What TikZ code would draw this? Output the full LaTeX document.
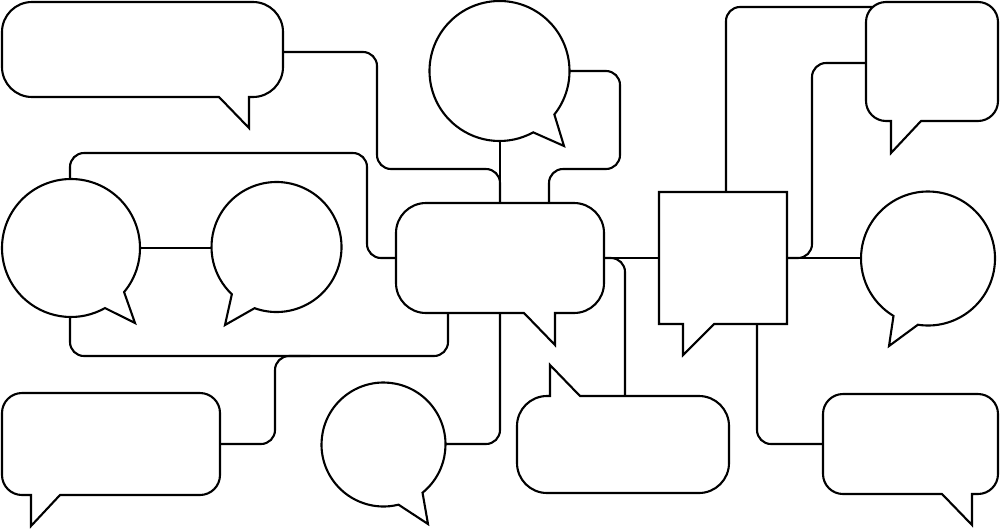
\documentclass[tikz,border=0pt]{standalone}
\begin{document}
\begin{tikzpicture}[x=1pt,y=-1pt,
  bub/.style={draw=black,fill=white,line width=2.1pt,line join=miter,miter limit=6},
  conn/.style={draw=black,line width=2.1pt,rounded corners=14pt}]
\useasboundingbox (0,0) rectangle (1000,528);
% connection points
\coordinate (b1e) at (280,52);
\coordinate (c1s) at (500,138);
\coordinate (c1e) at (567,71);
\coordinate (cbnA) at (500,206);
\coordinate (cbnB) at (549,206);
\coordinate (c2n) at (70,182);
\coordinate (c2s) at (70,314);
\coordinate (c2e) at (137,248);
\coordinate (c3w) at (215,248);
\coordinate (cbw) at (399,258);
\coordinate (cbsA) at (448,310);
\coordinate (cbsB) at (500,310);
\coordinate (cbe) at (601,258);
\coordinate (loopj) at (310,356);
\coordinate (ble) at (217,444);
\coordinate (bce) at (442,444);
\coordinate (bmn) at (625,399);
\coordinate (sqw) at (662,258);
\coordinate (sqn) at (726,195);
\coordinate (sqe) at (784,258);
\coordinate (sqs) at (757,321);
\coordinate (trw) at (878,7);
\coordinate (trw2) at (869,63);
\coordinate (rcw) at (864,258);
\coordinate (brw) at (826,444);
% connectors
\draw[conn] (b1e) -- (377,52) -- (377,169) -- (500,169) -- (cbnA);
\draw[conn] (c1s) -- (cbnA);
\draw[conn] (c1e) -- (620,71) -- (620,169) -- (549,169) -- (cbnB);
\draw[conn] (c2n) -- (70,153) -- (367,153) -- (367,258) -- (cbw);
\draw[conn] (c2s) -- (70,356) -- (448,356) -- (cbsA);
\draw[conn] (c2e) -- (c3w);
\draw[conn] (ble) -- (275,444) -- (275,356) -- (loopj);
\draw[conn] (bce) -- (500,444) -- (cbsB);
\draw[conn] (cbe) -- (sqw);
\draw[conn] (bmn) -- (625,258) -- (cbe);
\draw[conn] (sqn) -- (726,7) -- (trw);
\draw[conn] (trw2) -- (812,63) -- (812,258) -- (sqe);
\draw[conn] (sqe) -- (rcw);
\draw[conn] (sqs) -- (757,444) -- (brw);
% rectangular bubbles
\draw[bub] (32,2) -- (253,2) arc[start angle=-90,end angle=0,radius=30] -- (283,67) arc[start angle=0,end angle=90,radius=30] -- (249,97) -- (249,128) -- (219,97) -- (32,97) arc[start angle=90,end angle=180,radius=30] -- (2,32) arc[start angle=180,end angle=270,radius=30] -- cycle;
\draw[bub] (426,203) -- (574,203) arc[start angle=-90,end angle=0,radius=30] -- (604,283) arc[start angle=0,end angle=90,radius=30] -- (555,313) -- (555,345) -- (524,313) -- (426,313) arc[start angle=90,end angle=180,radius=30] -- (396,233) arc[start angle=180,end angle=270,radius=30] -- cycle;
\draw[bub] (886,2) -- (978,2) arc[start angle=-90,end angle=0,radius=20] -- (998,101) arc[start angle=0,end angle=90,radius=20] -- (921,121) -- (891,153) -- (891,121) -- (886,121) arc[start angle=90,end angle=180,radius=20] -- (866,22) arc[start angle=180,end angle=270,radius=20] -- cycle;
\draw[bub] (843,394) -- (978,394) arc[start angle=-90,end angle=0,radius=20] -- (998,474) arc[start angle=0,end angle=90,radius=20] -- (972,494) -- (972,525) -- (942,494) -- (843,494) arc[start angle=90,end angle=180,radius=20] -- (823,414) arc[start angle=180,end angle=270,radius=20] -- cycle;
\draw[bub] (22,393) -- (200,393) arc[start angle=-90,end angle=0,radius=20] -- (220,475) arc[start angle=0,end angle=90,radius=20] -- (60,495) -- (31,526) -- (31,495) -- (22,495) arc[start angle=90,end angle=180,radius=20] -- (2,413) arc[start angle=180,end angle=270,radius=20] -- cycle;
\draw[bub] (547,396) -- (550,396) -- (550,365) -- (580,396) -- (699,396) arc[start angle=-90,end angle=0,radius=30] -- (729,463) arc[start angle=0,end angle=90,radius=30] -- (547,493) arc[start angle=90,end angle=180,radius=30] -- (517,426) arc[start angle=180,end angle=270,radius=30] -- cycle;
% square bubble
\draw[bub] (659,192) -- (787,192) -- (787,324) -- (714,324) -- (683,355) -- (683,324) -- (659,324) -- cycle;
% round bubbles
\draw[bub] (499.5,71) ++(38.4:70) arc[start angle=38.4,end angle=-298.8,radius=70] -- (564,146) -- cycle;
\draw[bub] (71,248) ++(39.7:69) arc[start angle=39.7,end angle=-299.5,radius=69] -- (135,323) -- cycle;
\draw[bub] (276.5,247) ++(109.7:65) arc[start angle=109.7,end angle=-226.6,radius=65] -- (225,325) -- cycle;
\draw[bub] (928,258.5) ++(98.7:67) arc[start angle=98.7,end angle=-239,radius=67] -- (889,346) -- cycle;
\draw[bub] (383.5,444.5) ++(51:62) arc[start angle=51,end angle=-284,radius=62] -- (428,524) -- cycle;
\end{tikzpicture}
\end{document}
